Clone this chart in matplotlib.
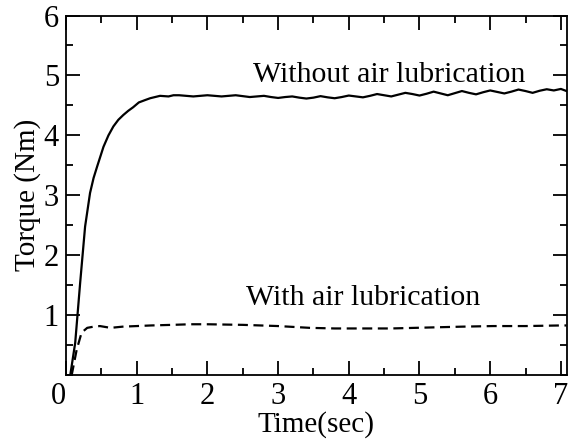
import matplotlib
matplotlib.use("Agg")
import matplotlib.pyplot as plt
import matplotlib.transforms as mtransforms
from matplotlib.ticker import MultipleLocator

plt.rcParams['font.family'] = ['Liberation Serif', 'DejaVu Serif']

# Torque without air lubrication (solid)
t_without = [0.06, 0.13, 0.20, 0.27, 0.34, 0.39, 0.44, 0.53, 0.60, 0.67, 0.74, 0.81,
             0.88, 0.95, 1.03, 1.12, 1.19, 1.33, 1.45, 1.52,
             1.6, 1.7, 1.8, 1.9, 2.0, 2.1, 2.2, 2.3, 2.4, 2.5, 2.6, 2.7, 2.8, 2.9,
             3.0, 3.1, 3.2, 3.3, 3.4, 3.5, 3.6, 3.7, 3.8, 3.9, 4.0, 4.1, 4.2, 4.3,
             4.4, 4.5, 4.6, 4.7, 4.8, 4.9, 5.0, 5.1, 5.2, 5.3, 5.4, 5.5, 5.6, 5.7,
             5.8, 5.9, 6.0, 6.1, 6.2, 6.3, 6.4, 6.5, 6.6, 6.7, 6.8, 6.9, 7.0, 7.08]
torque_without = [0.0, 0.54, 1.54, 2.48, 3.04, 3.29, 3.48, 3.81, 4.00, 4.15, 4.26, 4.34,
                  4.41, 4.47, 4.55, 4.59, 4.62, 4.66, 4.65, 4.67,
                  4.67, 4.66, 4.65, 4.66, 4.67, 4.66, 4.65, 4.66, 4.67, 4.655, 4.64,
                  4.65, 4.66, 4.64, 4.625, 4.64, 4.65, 4.63, 4.615, 4.63, 4.655, 4.635,
                  4.62, 4.64, 4.665, 4.65, 4.635, 4.66, 4.69, 4.67, 4.65, 4.68, 4.71,
                  4.69, 4.665, 4.695, 4.73, 4.70, 4.67, 4.705, 4.74, 4.71, 4.685, 4.72,
                  4.75, 4.725, 4.70, 4.73, 4.765, 4.74, 4.71, 4.745, 4.77, 4.75, 4.775,
                  4.74]

# Torque with air lubrication (dashed)
t_with = [0.08, 0.15, 0.22, 0.30, 0.39, 0.48, 0.63, 0.80, 1.0, 1.2, 1.5, 1.76, 2.0,
          2.5, 2.75, 3.0, 3.45, 3.8, 4.16, 4.6, 5.1, 5.6, 6.04, 6.5, 6.99, 7.08]
torque_with = [0.0, 0.42, 0.71, 0.79, 0.81, 0.82, 0.79, 0.81, 0.82, 0.83, 0.84, 0.85,
               0.85, 0.84, 0.83, 0.82, 0.79, 0.78, 0.78, 0.78, 0.795, 0.81, 0.82, 0.82,
               0.83, 0.83]

fig = plt.figure(figsize=(5.74, 4.43), dpi=100)
ax = fig.add_axes([0.115, 0.153, 0.872, 0.812])

ax.plot(t_without, torque_without, color='black', lw=1.6)
ax.plot(t_with, torque_with, color='black', lw=1.6, dashes=(4.5, 2.5))

ax.set_xlim(0, 7.08)
ax.set_ylim(0, 6)
ax.xaxis.set_minor_locator(MultipleLocator(0.5))
ax.yaxis.set_minor_locator(MultipleLocator(0.5))
ax.set_yticks([1, 2, 3, 4, 5, 6])
ax.set_xticks([0, 1, 2, 3, 4, 5, 6, 7])

ax.tick_params(which='both', direction='in', top=True, right=True, width=1.3,
               labelsize=22, colors='black', pad=5)
ax.tick_params(which='major', length=10)
ax.tick_params(which='minor', length=5)
for s in ax.spines.values():
    s.set_linewidth(1.3)

# the origin label sits a little to the left in the original
zero_lbl = ax.xaxis.get_major_ticks()[0].label1
zero_lbl.set_transform(zero_lbl.get_transform() +
                       mtransforms.ScaledTranslation(-0.08, 0, fig.dpi_scale_trans))

ax.set_xlabel('Time(sec)', fontsize=21, labelpad=0)
ax.set_ylabel('Torque (Nm)', fontsize=21, labelpad=2)

ax.text(2.65, 4.89, 'Without air lubrication', fontsize=21.5, va='baseline')
ax.text(2.55, 1.175, 'With air lubrication', fontsize=21.5, va='baseline')

fig.savefig('out.png', dpi=100)
